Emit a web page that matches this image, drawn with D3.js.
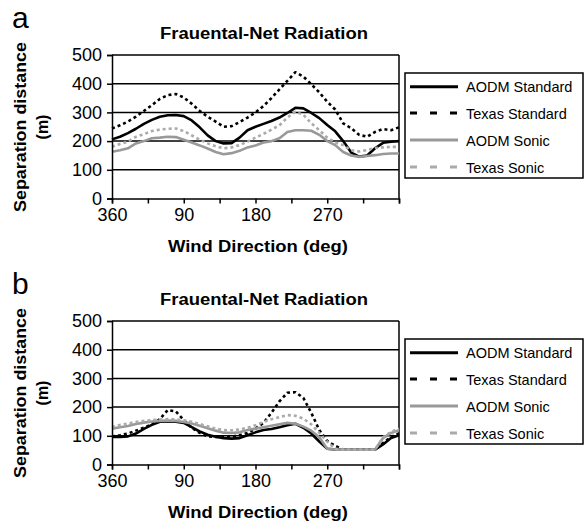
<!DOCTYPE html>
<html><head><meta charset="utf-8">
<script src="https://cdn.jsdelivr.net/npm/d3@7"></script>
<style>body{margin:0;background:#fff}svg{display:block}text{font-family:"Liberation Sans",Arial,sans-serif;fill:#000}</style>
</head><body>
<svg id="chart" width="585" height="530"></svg>
<script>
const directions = d3.range(0, 361, 10);
const yTicks = [0, 100, 200, 300, 400, 500];
const xTickLabels = [[0, "360"], [90, "90"], [180, "180"], [270, "270"]];
const seriesNames = ["AODM Standard", "Texas Standard", "AODM Sonic", "Texas Sonic"];
const titleText = "Frauental-Net Radiation";
const xLabelText = "Wind Direction (deg)";
const yLabelLines = ["Separation distance", "(m)"];

// Panel a
const aAODMStandard = [206,215,228,243,260,274,285,290,291,287,272,248,220,200,192,193,212,238,250,260,270,282,298,316,314,298,280,256,234,200,160,146,150,175,194,198,200];
const aTexasStandard = [244,255,268,285,305,325,347,360,364,352,330,305,285,268,250,252,266,282,300,322,350,380,410,440,425,398,370,337,310,262,245,222,215,232,242,238,248];
const aAODMSonic = [163,168,175,192,200,210,212,215,214,205,195,185,174,162,154,158,166,178,185,195,200,210,232,238,238,236,222,200,186,162,150,145,148,151,155,157,157];
const aTexasSonic = [180,190,198,215,224,235,240,243,244,235,220,205,192,182,175,178,186,198,212,225,240,255,282,302,292,262,238,212,195,186,168,164,169,176,178,180,180];

// Panel b
const bAODMStandard = [96,96,98,108,124,138,149,150,149,145,130,115,104,97,92,90,92,102,112,120,124,130,137,142,128,108,80,55,52,52,52,52,52,52,70,92,102];
const bTexasStandard = [98,102,108,118,128,140,158,190,185,155,128,110,98,96,96,97,102,110,125,145,180,220,250,252,232,180,120,82,65,52,52,52,52,52,75,96,108];
const bAODMSonic = [125,130,134,141,146,150,152,153,152,148,143,135,126,118,111,110,112,120,125,130,135,140,145,142,132,118,95,55,52,52,52,52,52,52,92,110,119];
const bTexasSonic = [131,138,143,148,152,155,157,158,157,154,149,141,133,125,120,119,122,128,137,148,158,165,172,170,160,140,110,80,55,52,52,52,52,52,95,114,125];

const styles = [
  {color: "#000", width: 2.6, dash: null, legendDash: null},
  {color: "#000", width: 2.6, dash: "3,3", legendDash: "7,13"},
  {color: "#999", width: 2.6, dash: null, legendDash: null},
  {color: "#aaa", width: 2.6, dash: "3,3", legendDash: "7,13"}
];

const svg = d3.select("#chart");

function drawPanel(offsetY, letter, seriesData) {
  const g = svg.append("g").attr("transform", `translate(0,${offsetY})`);
  const x = d3.scaleLinear().domain([0, 360]).range([112, 399]);
  const y = d3.scaleLinear().domain([0, 500]).range([198.5, 55]);

  g.append("text").attr("x", 12).attr("y", 28).attr("font-size", 30).text(letter);
  g.append("text").attr("x", 264).attr("y", 39).attr("text-anchor", "middle")
    .attr("font-size", 16).attr("font-weight", "bold")
    .attr("textLength", 208).attr("lengthAdjust", "spacingAndGlyphs").text(titleText);

  g.append("g").selectAll("line").data(yTicks.filter(t => t > 0)).join("line")
    .attr("x1", x(0)).attr("x2", x(360)).attr("y1", d => y(d)).attr("y2", d => y(d))
    .attr("stroke", "#000").attr("stroke-width", 1.5);
  g.append("line").attr("x1", x(360)).attr("x2", x(360)).attr("y1", y(500)).attr("y2", y(0))
    .attr("stroke", "#000").attr("stroke-width", 1.5);

  const line = d3.line().x((d, i) => x(directions[i])).y(d => y(d));
  seriesData.forEach((vals, i) => {
    const s = styles[i];
    g.append("path").datum(vals).attr("d", line).attr("fill", "none")
      .attr("stroke", s.color).attr("stroke-width", s.width)
      .attr("stroke-dasharray", s.dash).attr("stroke-linejoin", "round");
  });

  const yAxis = d3.axisLeft(y).tickValues(yTicks).tickSize(5).tickPadding(5);
  const ya = g.append("g").attr("transform", `translate(${x(0)},0)`).call(yAxis);
  ya.select(".domain").attr("stroke-width", 1.5);
  ya.selectAll(".tick line").attr("stroke-width", 1.5);
  ya.selectAll(".tick text").attr("font-size", 18).attr("font-family", '"Liberation Sans",Arial,sans-serif');

  const xAxis = d3.axisBottom(x).tickValues(d3.range(0, 361, 45)).tickSize(5).tickPadding(5)
    .tickFormat(d => { const f = xTickLabels.find(t => t[0] === d); return f ? f[1] : ""; });
  const xa = g.append("g").attr("transform", `translate(0,${y(0)})`).call(xAxis);
  xa.select(".domain").attr("stroke-width", 1.5);
  xa.selectAll(".tick line").attr("stroke-width", 1.5);
  xa.selectAll(".tick text").attr("font-size", 18).attr("font-family", '"Liberation Sans",Arial,sans-serif');

  g.append("text").attr("x", 258).attr("y", 252).attr("text-anchor", "middle")
    .attr("font-size", 16.5).attr("font-weight", "bold")
    .attr("textLength", 180).attr("lengthAdjust", "spacingAndGlyphs").text(xLabelText);
  g.append("text").attr("transform", `translate(26,127) rotate(-90)`).attr("text-anchor", "middle")
    .attr("font-size", 16).attr("font-weight", "bold")
    .attr("textLength", 170).attr("lengthAdjust", "spacingAndGlyphs").text(yLabelLines[0]);
  g.append("text").attr("transform", `translate(48,127) rotate(-90)`).attr("text-anchor", "middle")
    .attr("font-size", 16).attr("font-weight", "bold").text(yLabelLines[1]);

  const lg = g.append("g");
  lg.append("rect").attr("x", 405).attr("y", 73).attr("width", 178).attr("height", 105)
    .attr("fill", "#fff").attr("stroke", "#000").attr("stroke-width", 1.5);
  const ly = [86.7, 113, 140, 167];
  seriesNames.forEach((name, i) => {
    const s = styles[i];
    lg.append("line").attr("x1", 410).attr("x2", 458).attr("y1", ly[i]).attr("y2", ly[i])
      .attr("stroke", s.color).attr("stroke-width", 3).attr("stroke-dasharray", s.legendDash);
    lg.append("text").attr("x", 466).attr("y", ly[i] + 5.5).attr("font-size", 14.5).text(name);
  });
}

drawPanel(0, "a", [aAODMStandard, aTexasStandard, aAODMSonic, aTexasSonic]);
drawPanel(266, "b", [bAODMStandard, bTexasStandard, bAODMSonic, bTexasSonic]);
</script>
</body></html>
